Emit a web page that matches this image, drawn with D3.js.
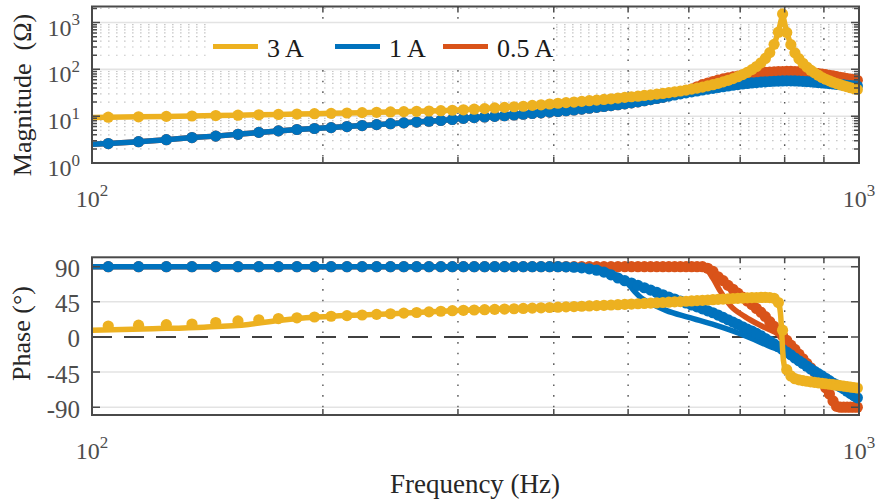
<!DOCTYPE html>
<html>
<head>
<meta charset="utf-8">
<script src="https://cdn.jsdelivr.net/npm/d3@7"></script>
<style>
  body { margin: 0; background: #fff; }
  svg, svg text { font-family: "Liberation Serif", "DejaVu Serif", "Times New Roman", serif; }
</style>
</head>
<body>
<div id="chart"></div>
<script>
// measurement frequencies (Hz) of the markers
const freqs = [
  105, 115, 125, 135, 145, 155, 165, 175, 185, 195,
  205, 215, 225, 235, 245, 255, 265, 275, 285, 295,
  305, 315, 325, 335, 345, 355, 365, 375, 385, 395,
  405, 415, 425, 435, 445, 455, 465, 475, 485, 495,
  505, 515, 525, 535, 545, 555, 565, 575, 585, 595,
  605, 615, 625, 635, 645, 655, 665, 675, 685, 695,
  705, 715, 725, 735, 745, 755, 765, 775, 785, 795,
  805, 815, 825, 835, 845, 855, 865, 875, 885, 895,
  905, 915, 925, 935, 945, 955, 965, 975, 985, 995,
];

// magnitude (ohm) markers
const magYellow = [
  9.5, 9.7, 9.9, 10.1, 10.3, 10.5, 10.7, 10.9, 11.1, 11.3,
  11.5, 11.7, 11.9, 12.1, 12.3, 12.5, 12.7, 12.9, 13.1, 13.4,
  13.7, 14.1, 14.5, 15.0, 15.4, 15.9, 16.3, 17.0, 17.5, 18.2,
  18.9, 19.5, 20.0, 20.7, 21.4, 22.0, 22.8, 23.5, 24.4, 25.2,
  26.0, 26.7, 27.7, 28.5, 29.6, 30.6, 31.9, 33.1, 34.5, 36.1,
  37.8, 39.8, 41.9, 44.5, 47.1, 50.4, 54, 58.4, 63.3, 69.6,
  77.2, 86.3, 98.6, 115, 138, 171, 228, 342, 622, 1530,
  612, 337, 225, 169, 135, 112, 96, 84, 75, 67,
  61.5, 57, 53, 49.8, 47, 44.7, 42.5, 40.5, 38.7, 37.1,
];
const magBlue = [
  2.6, 2.85, 3.15, 3.5, 3.75, 4.1, 4.5, 4.85, 5.2, 5.45,
  5.7, 6.0, 6.3, 6.6, 6.9, 7.2, 7.5, 7.8, 8.1, 8.5,
  9.0, 9.3, 9.6, 9.9, 10.2, 10.6, 11.0, 11.4, 11.8, 12.2,
  12.6, 13.1, 13.6, 14.2, 14.8, 15.4, 16.1, 16.8, 17.6, 18.4,
  19.3, 20.3, 21.4, 22.6, 23.9, 25.3, 26.8, 28.3, 29.9, 31.5,
  33, 34.6, 36.2, 37.8, 39.4, 41, 42.6, 44.2, 45.8, 47.3,
  48.7, 50, 51.2, 52.3, 53.3, 54.2, 55, 55.7, 56.2, 56.6,
  56.8, 56.8, 56.6, 56.2, 55.6, 54.9, 54.1, 53.2, 52.3, 51.4,
  50.5, 49.6, 48.7, 47.9, 47.1, 46.4, 45.7, 45.1, 44.5, 44,
];
const magOrange = [
  2.6, 2.85, 3.15, 3.5, 3.75, 4.1, 4.5, 4.85, 5.2, 5.45,
  5.7, 6.0, 6.3, 6.6, 6.9, 7.2, 7.5, 7.8, 8.1, 8.5,
  9.0, 9.3, 9.6, 9.9, 10.2, 10.6, 11.0, 11.4, 11.8, 12.2,
  12.6, 13.1, 13.6, 14.2, 14.8, 15.4, 16.1, 16.8, 17.6, 18.4,
  19.3, 20.3, 21.4, 22.6, 23.9, 25.3, 27.5, 29.8, 32.2, 35,
  38, 42.5, 47, 51, 55, 59, 62.5, 66, 69, 72,
  74.5, 77, 79.5, 82, 84, 86, 87.5, 88.5, 89.5, 90,
  90.3, 90.3, 90, 89.3, 88.3, 87, 85.5, 83.5, 81.5, 79.3,
  77, 74.7, 72.4, 70.1, 67.9, 65.8, 63.8, 61.9, 60.1, 58.5,
];
// magnitude line values at 100 Hz and 1000 Hz
const magEndsYellow = [9.4, 36.5];
const magEndsBlue = [2.5, 43.8];
const magEndsOrange = [2.5, 58.2];

// phase (deg) markers
const phaseYellow = [
  14, 15, 15.8, 16.5, 18.5, 20.5, 22, 23.5, 24.5, 25.5,
  26.5, 27.3, 28.1, 28.9, 29.7, 30.5, 31.3, 32.1, 32.9, 33.6,
  34.1, 34.5, 34.9, 35.3, 35.7, 36.1, 36.5, 36.9, 37.3, 37.7,
  38.1, 38.5, 38.9, 39.3, 39.7, 40.1, 40.5, 40.9, 41.3, 41.7,
  42.1, 42.5, 42.9, 43.3, 43.7, 44.1, 44.5, 44.9, 45.3, 45.7,
  46.1, 46.5, 46.9, 47.3, 47.7, 48.1, 48.5, 48.9, 49.2, 49.5,
  49.8, 50.1, 50.3, 50.5, 50.6, 50.6, 50.4, 49.5, 44, 8.6,
  -42, -50, -53.5, -55, -56, -56.8, -57.5, -58.2, -58.8, -59.4,
  -60, -60.6, -61.2, -61.8, -62.4, -63, -63.6, -64.2, -64.8, -65.4,
];
const phaseBlue = [
  90, 90, 90, 90, 90, 90, 90, 90, 90, 90,
  90, 90, 90, 90, 90, 90, 90, 90, 90, 90,
  90, 90, 90, 90, 90, 90, 90, 90, 90, 90,
  90, 89.8, 89.3, 88.5, 87.3, 85.5, 83, 79.5, 75.5, 72,
  69, 66, 63, 60, 57, 54, 51, 48.5, 46, 43.5,
  41, 38.5, 36, 33.5, 31, 28, 25, 22, 19, 16,
  13, 10, 7.5, 4.5, 1.5, -2, -5.5, -9, -12.5, -16,
  -19.5, -23, -27, -30.5, -34, -37.5, -41, -44, -47, -50,
  -53, -56, -59, -61.5, -64, -66.5, -69.5, -72.5, -75.5, -78,
];
const phaseOrange = [
  90, 90, 90, 90, 90, 90, 90, 90, 90, 90,
  90, 90, 90, 90, 90, 90, 90, 90, 90, 90,
  90, 90, 90, 90, 90, 90, 90, 90, 90, 90,
  90, 90, 90, 90, 90, 90, 90, 90, 90, 90,
  90, 90, 90, 90, 90, 90, 90, 90, 90, 90,
  90, 90, 90, 88, 84, 77, 72, 66, 61, 56,
  51, 46, 41.5, 36.5, 31.5, 26, 19.5, 13.5, 7.5, 1.5,
  -4.5, -10.5, -16, -22, -28, -34, -39.5, -45, -51, -58,
  -65, -73, -82, -89, -90, -90, -90, -90, -90, -90,
];

// phase model lines [Hz, deg]
const phaseLineYellow = [
  [100, 8.5], [120, 10.5], [140, 12.5], [160, 16], [175, 21], [190, 24.5],
  [210, 27], [250, 30], [300, 33.8], [400, 38], [500, 42], [600, 46],
  [700, 49.8], [750, 50.7], [775, 49.5], [785, 44], [790, 30], [797, -30],
  [802, -42], [815, -50], [835, -55], [900, -59.7], [1000, -65.7],
];
const phaseLineBlue = [
  [100, 90], [420, 90], [450, 88.5], [475, 82], [490, 76], [500, 68],
  [510, 58], [520, 50], [535, 43], [560, 34], [600, 25], [650, 15],
  [700, 4], [760, -11], [820, -25], [850, -36], [885, -47], [950, -66],
  [1000, -80],
];
const phaseLineOrange = [
  [100, 90], [620, 90], [632, 87], [645, 75], [660, 58], [680, 40],
  [710, 26], [750, 13], [790, 2], [830, -17], [860, -37], [885, -51],
  [905, -65], [925, -82], [940, -90], [1000, -90],
];

const phaseTicks = [-90, -45, 0, 45, 90];
const legendNames = ["3 A", "1 A", "0.5 A"];

const series = [
  { name: "0.5 A", color: "#D95319", mag: magOrange, magEnds: magEndsOrange, phase: phaseOrange, phaseLine: phaseLineOrange },
  { name: "1 A", color: "#0072BD", mag: magBlue, magEnds: magEndsBlue, phase: phaseBlue, phaseLine: phaseLineBlue },
  { name: "3 A", color: "#EDB120", mag: magYellow, magEnds: magEndsYellow, phase: phaseYellow, phaseLine: phaseLineYellow },
];
const colorOf = new Map(series.map((s) => [s.name, s.color]));

const width = 876;
const height = 501;
const font = "'Liberation Serif', 'DejaVu Serif', serif";
const axisColor = "#4a4a4a";
const tickTextColor = "#4d4d4d";

const x = d3.scaleLog().domain([100, 1000]).range([92, 859]);
const yMag = d3.scaleLog().domain([1, 2200]).range([163, 6.5]);
const yPh = d3.scaleLinear().domain([-100, 102]).range([415, 257.3]);

const isDecade = (v) => Math.abs(Math.log10(v) - Math.round(Math.log10(v))) < 1e-9;
const xMinor = x.ticks().filter((v) => !isDecade(v));

const svg = d3
  .select("#chart")
  .append("svg")
  .attr("width", width)
  .attr("height", height)
  .attr("font-family", font);

function powLabel(text, base, exp) {
  text.append("tspan").text(base);
  text.append("tspan").attr("dy", -10.5).attr("font-size", 17).text(exp);
}

function drawVerticalGrid(g, y) {
  g.append("g")
    .selectAll("line")
    .data(xMinor)
    .join("line")
    .attr("x1", (d) => x(d))
    .attr("x2", (d) => x(d))
    .attr("y1", y.range()[1])
    .attr("y2", y.range()[0])
    .attr("stroke", "#555")
    .attr("stroke-width", 1.4)
    .attr("stroke-dasharray", "1.6,9");
}

function drawXTicks(g, y) {
  const [y0, y1] = y.range();
  g.append("g")
    .selectAll("path")
    .data(xMinor)
    .join("path")
    .attr("d", (d) => `M${x(d)},${y0}v-6M${x(d)},${y1}v6`)
    .attr("stroke", axisColor)
    .attr("stroke-width", 1.5);
}

function drawXLabels(g, y) {
  const base = y.range()[0] + 43.5;
  [100, 1000].forEach((v) => {
    g.append("text")
      .attr("x", x(v))
      .attr("y", base)
      .attr("text-anchor", "middle")
      .attr("font-size", 24)
      .attr("fill", tickTextColor)
      .call(powLabel, "10", Math.round(Math.log10(v)));
  });
}

function drawBox(g, y) {
  const [y0, y1] = y.range();
  g.append("rect")
    .attr("x", x.range()[0])
    .attr("y", y1)
    .attr("width", x.range()[1] - x.range()[0])
    .attr("height", y0 - y1)
    .attr("fill", "none")
    .attr("stroke", axisColor)
    .attr("stroke-width", 2);
}

function drawSeries(g, y, lineData, markers) {
  g.append("path")
    .datum(lineData.data)
    .attr("fill", "none")
    .attr("stroke", lineData.color)
    .attr("stroke-width", 5.5)
    .attr("stroke-linejoin", "round")
    .attr("d", d3.line().x((d) => x(d[0])).y((d) => y(d[1])).curve(lineData.curve));

  g.append("g")
    .selectAll("circle")
    .data(markers)
    .join("circle")
    .attr("cx", (d) => x(d[0]))
    .attr("cy", (d) => y(d[1]))
    .attr("r", 5.6)
    .attr("fill", lineData.color);
}

// ---------- magnitude panel ----------
const gMag = svg.append("g");
const magTicks = yMag.ticks();

gMag.append("g")
  .selectAll("line")
  .data(magTicks.filter((v) => !isDecade(v)))
  .join("line")
  .attr("x1", x.range()[0])
  .attr("x2", x.range()[1])
  .attr("y1", (d) => yMag(d))
  .attr("y2", (d) => yMag(d))
  .attr("stroke", "#c8c8c8")
  .attr("stroke-width", 1.2)
  .attr("stroke-dasharray", "1.6,6.4");

gMag.append("g")
  .selectAll("line")
  .data(magTicks.filter(isDecade))
  .join("line")
  .attr("x1", x.range()[0])
  .attr("x2", x.range()[1])
  .attr("y1", (d) => yMag(d))
  .attr("y2", (d) => yMag(d))
  .attr("stroke", "#e3e3e3")
  .attr("stroke-width", 1.6);

drawVerticalGrid(gMag, yMag);

series.forEach((s) => {
  const pts = freqs.map((f, i) => [f, s.mag[i]]);
  drawSeries(
    gMag,
    yMag,
    { data: [[100, s.magEnds[0]], ...pts, [1000, s.magEnds[1]]], color: s.color, curve: d3.curveLinear },
    pts
  );
});

drawBox(gMag, yMag);
drawXTicks(gMag, yMag);
gMag.append("g")
  .selectAll("path")
  .data(magTicks)
  .join("path")
  .attr("d", (d) => {
    const len = isDecade(d) ? 8 : 5;
    return `M${x.range()[0]},${yMag(d)}h${len}M${x.range()[1]},${yMag(d)}h${-len}`;
  })
  .attr("stroke", axisColor)
  .attr("stroke-width", 1.5);

gMag.append("g")
  .selectAll("text")
  .data(magTicks.filter(isDecade))
  .join("text")
  .attr("x", 80)
  .attr("y", (d) => yMag(d) + 13)
  .attr("text-anchor", "end")
  .attr("font-size", 24)
  .attr("fill", tickTextColor)
  .each(function (d) {
    d3.select(this).call(powLabel, "10", Math.round(Math.log10(d)));
  });

drawXLabels(gMag, yMag);

gMag.append("text")
  .attr("transform", "translate(30.5,95) rotate(-90)")
  .attr("text-anchor", "middle")
  .attr("font-size", 26)
  .attr("fill", "#262626")
  .text("Magnitude\u00a0 (Ω)");

// legend
const legend = svg.append("g");
legend.append("rect")
  .attr("x", 208)
  .attr("y", 24)
  .attr("width", 345)
  .attr("height", 43)
  .attr("fill", "#fff");
const legendStarts = [213, 335, 443];
legendNames.forEach((name, i) => {
  const lx = legendStarts[i];
  legend.append("line")
    .attr("x1", lx)
    .attr("x2", lx + 45)
    .attr("y1", 46.5)
    .attr("y2", 46.5)
    .attr("stroke", colorOf.get(name))
    .attr("stroke-width", 5);
  legend.append("text")
    .attr("x", lx + 54)
    .attr("y", 56.5)
    .attr("font-size", 26)
    .attr("fill", "#1a1a1a")
    .text(name);
});

// ---------- phase panel ----------
const gPh = svg.append("g");

gPh.append("g")
  .selectAll("line")
  .data(phaseTicks.filter((d) => d !== 0))
  .join("line")
  .attr("x1", x.range()[0])
  .attr("x2", x.range()[1])
  .attr("y1", (d) => yPh(d))
  .attr("y2", (d) => yPh(d))
  .attr("stroke", "#e3e3e3")
  .attr("stroke-width", 1.6);

drawVerticalGrid(gPh, yPh);

gPh.append("line")
  .attr("x1", x.range()[0])
  .attr("x2", x.range()[1])
  .attr("y1", yPh(0))
  .attr("y2", yPh(0))
  .attr("stroke", "#404040")
  .attr("stroke-width", 2)
  .attr("stroke-dasharray", "20,12");

series.forEach((s) => {
  drawSeries(
    gPh,
    yPh,
    { data: s.phaseLine, color: s.color, curve: d3.curveMonotoneX },
    freqs.map((f, i) => [f, s.phase[i]])
  );
});

drawBox(gPh, yPh);
drawXTicks(gPh, yPh);
gPh.append("g")
  .selectAll("path")
  .data(phaseTicks)
  .join("path")
  .attr("d", (d) => `M${x.range()[0]},${yPh(d)}h8M${x.range()[1]},${yPh(d)}h-8`)
  .attr("stroke", axisColor)
  .attr("stroke-width", 1.5);

gPh.append("g")
  .selectAll("text")
  .data(phaseTicks)
  .join("text")
  .attr("x", 80)
  .attr("y", (d) => yPh(d) + 10.5)
  .attr("text-anchor", "end")
  .attr("font-size", 25)
  .attr("fill", tickTextColor)
  .text((d) => d);

drawXLabels(gPh, yPh);

gPh.append("text")
  .attr("transform", "translate(30,333.5) rotate(-90)")
  .attr("text-anchor", "middle")
  .attr("font-size", 26)
  .attr("fill", "#262626")
  .text("Phase (°)");

svg.append("text")
  .attr("x", 475)
  .attr("y", 493)
  .attr("text-anchor", "middle")
  .attr("font-size", 27)
  .attr("fill", "#262626")
  .text("Frequency (Hz)");
</script>
</body>
</html>
